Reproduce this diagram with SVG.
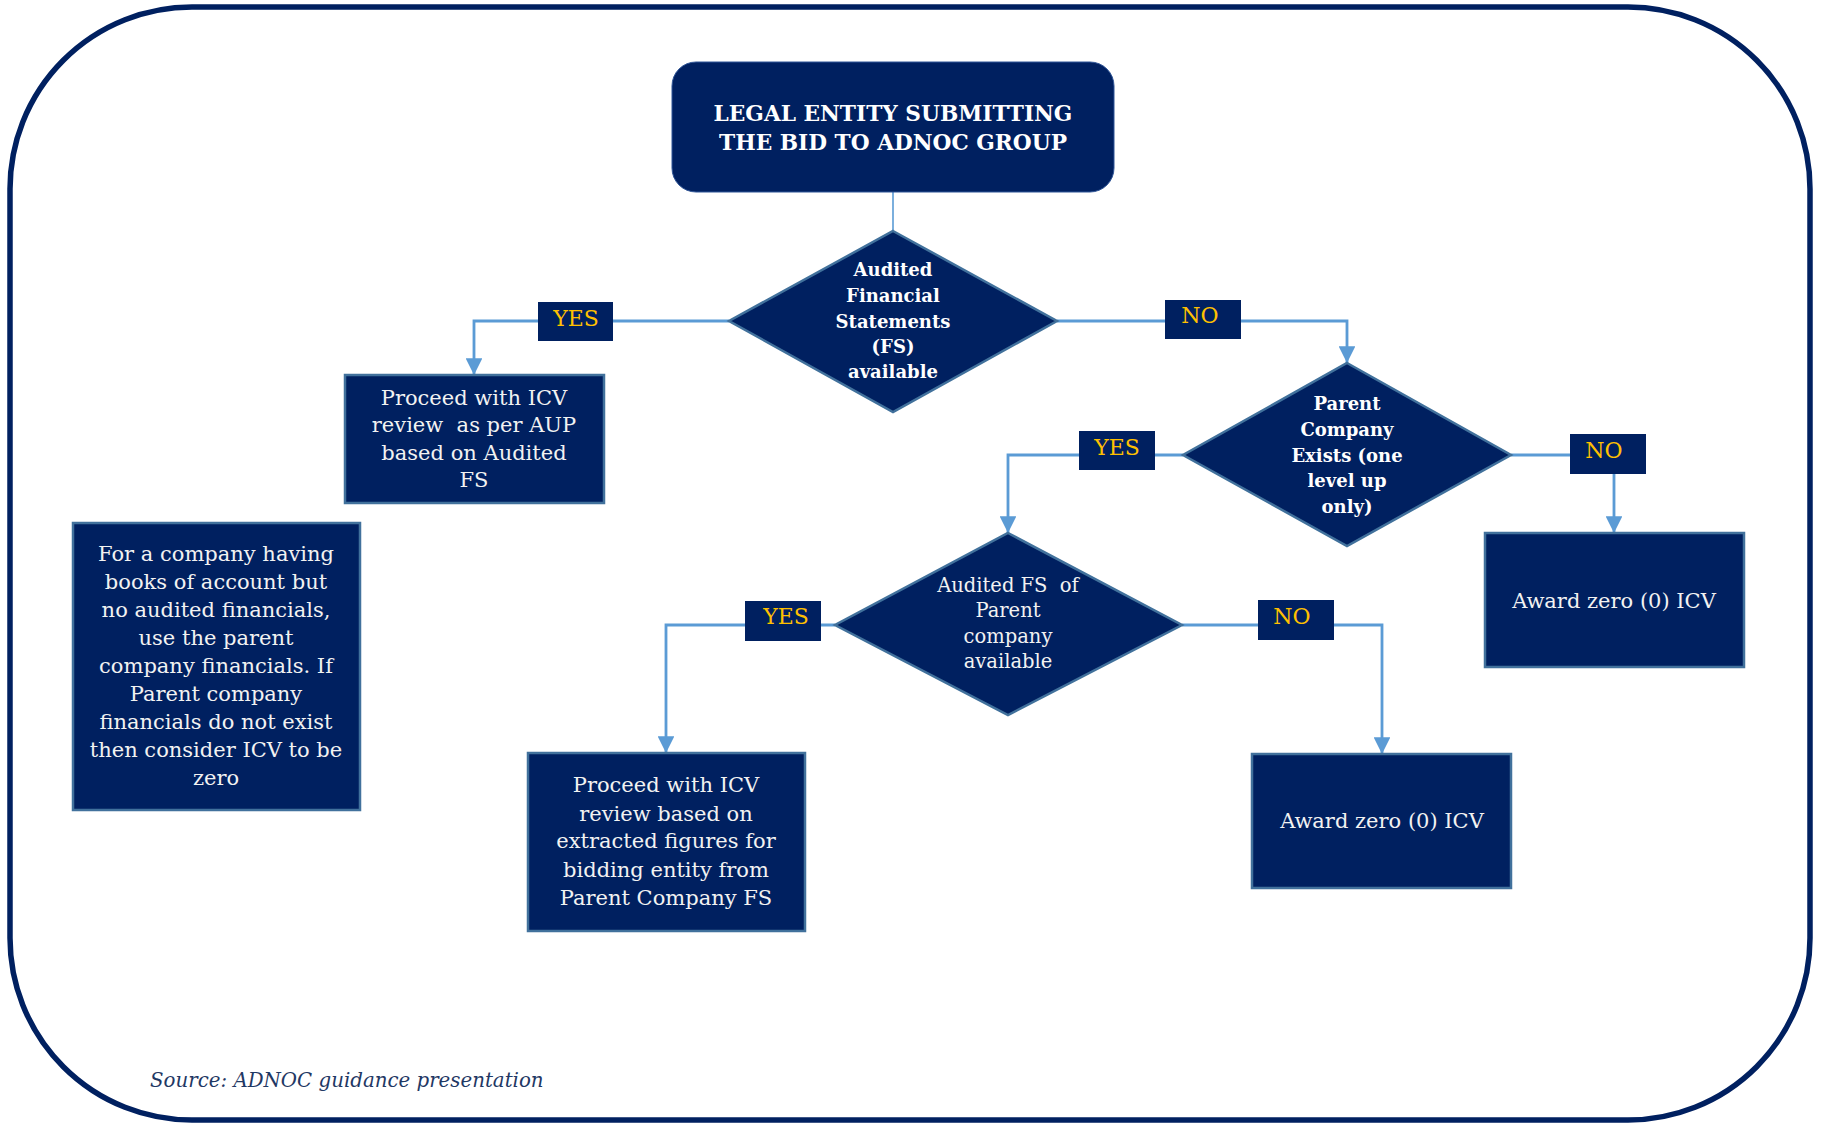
<svg xmlns="http://www.w3.org/2000/svg" width="1825" height="1124" viewBox="0 0 1825 1124">
<defs>
<style>
.node{fill:#002060;stroke:#41719C;stroke-width:2.5}
.lbl{fill:#002060;stroke:none}
.conn{fill:none;stroke:#5B9BD5;stroke-width:2.8}
.t{font-family:"DejaVu Serif",serif;fill:#F2F2F2;text-anchor:middle;font-size:21px;white-space:pre}
.b{font-family:"DejaVu Serif",serif;fill:#FFFFFF;text-anchor:middle;font-weight:bold;font-size:18px}
.y{font-family:"DejaVu Serif",serif;fill:#FFC000;text-anchor:middle;font-size:22px}
</style>
<marker id="arr" viewBox="0 0 10 10" refX="10" refY="5" markerWidth="6" markerHeight="6" markerUnits="strokeWidth" orient="auto">
<path d="M0,0 L10,5 L0,10 Z" fill="#5B9BD5"/>
</marker>
</defs>
<rect width="1825" height="1124" fill="#FFFFFF"/>
<rect x="10" y="7" width="1800" height="1113" rx="182" ry="182" fill="none" stroke="#002060" stroke-width="5.5"/>

<g id="connectors">
<line x1="893" y1="192" x2="893" y2="231" stroke="#5B9BD5" stroke-width="1.6"/>
<polyline class="conn" points="729,321 474,321 474,375" marker-end="url(#arr)"/>
<polyline class="conn" points="1057,321 1347,321 1347,363" marker-end="url(#arr)"/>
<polyline class="conn" points="1183,455 1008,455 1008,533" marker-end="url(#arr)"/>
<polyline class="conn" points="1511,455 1614,455 1614,533" marker-end="url(#arr)"/>
<polyline class="conn" points="835,625 666,625 666,753" marker-end="url(#arr)"/>
<polyline class="conn" points="1182,625 1382,625 1382,754" marker-end="url(#arr)"/>
</g>

<g id="label-yes1"><rect class="lbl" x="538" y="302" width="75" height="39"/><text class="y" x="576" y="326">YES</text></g>
<g id="label-no1"><rect class="lbl" x="1165" y="300" width="76" height="39"/><text class="y" x="1200" y="323">NO</text></g>
<g id="label-yes2"><rect class="lbl" x="1079" y="431" width="76" height="39"/><text class="y" x="1117" y="455">YES</text></g>
<g id="label-no2"><rect class="lbl" x="1570" y="434" width="76" height="40"/><text class="y" x="1604" y="458">NO</text></g>
<g id="label-yes3"><rect class="lbl" x="745" y="601" width="76" height="40"/><text class="y" x="786" y="624">YES</text></g>
<g id="label-no3"><rect class="lbl" x="1258" y="600" width="76" height="40"/><text class="y" x="1292" y="624">NO</text></g>

<g id="start">
<rect x="672" y="62" width="442" height="130" rx="24" ry="24" fill="#002060" stroke="#2F5597" stroke-width="1"/>
<text font-family="DejaVu Serif, serif" font-weight="bold" font-size="21.7" fill="#FFFFFF" text-anchor="middle"><tspan x="893" y="121">LEGAL ENTITY SUBMITTING</tspan><tspan x="893" y="150">THE BID TO ADNOC GROUP</tspan></text>
</g>

<g id="decision-afs">
<polygon class="node" points="893,231 1057,321 893,412 729,321"/>
<text class="b"><tspan x="893" y="276">Audited</tspan><tspan x="893" y="302">Financial</tspan><tspan x="893" y="328">Statements</tspan><tspan x="893" y="353">(FS)</tspan><tspan x="893" y="378">available</tspan></text>
</g>

<g id="proceed-aup">
<rect class="node" x="345" y="375" width="259" height="128"/>
<text class="t"><tspan x="474" y="405">Proceed with ICV</tspan><tspan x="474" y="432">review  as per AUP</tspan><tspan x="474" y="460">based on Audited</tspan><tspan x="474" y="487">FS</tspan></text>
</g>

<g id="decision-parent">
<polygon class="node" points="1347,363 1511,455 1347,546 1183,455"/>
<text class="b"><tspan x="1347" y="410">Parent</tspan><tspan x="1347" y="436">Company</tspan><tspan x="1347" y="462">Exists (one</tspan><tspan x="1347" y="487">level up</tspan><tspan x="1347" y="513">only)</tspan></text>
</g>

<g id="award-zero-1">
<rect class="node" x="1485" y="533" width="259" height="134"/>
<text class="t" x="1614" y="608">Award zero (0) ICV</text>
</g>

<g id="decision-parent-fs">
<polygon class="node" points="1008,533 1182,625 1008,715 835,625"/>
<text class="t" style="font-size:19.5px"><tspan x="1008" y="592">Audited FS  of</tspan><tspan x="1008" y="617">Parent</tspan><tspan x="1008" y="643">company</tspan><tspan x="1008" y="668">available</tspan></text>
</g>

<g id="proceed-parent">
<rect class="node" x="528" y="753" width="277" height="178"/>
<text class="t"><tspan x="666" y="792">Proceed with ICV</tspan><tspan x="666" y="821">review based on</tspan><tspan x="666" y="848">extracted figures for</tspan><tspan x="666" y="877">bidding entity from</tspan><tspan x="666" y="905">Parent Company FS</tspan></text>
</g>

<g id="award-zero-2">
<rect class="node" x="1252" y="754" width="259" height="134"/>
<text class="t" x="1382" y="828">Award zero (0) ICV</text>
</g>

<g id="note">
<rect class="node" x="73" y="523" width="287" height="287"/>
<text class="t"><tspan x="216" y="561">For a company having</tspan><tspan x="216" y="589">books of account but</tspan><tspan x="216" y="617">no audited financials,</tspan><tspan x="216" y="645">use the parent</tspan><tspan x="216" y="673">company financials. If</tspan><tspan x="216" y="701">Parent company</tspan><tspan x="216" y="729">financials do not exist</tspan><tspan x="216" y="757">then consider ICV to be</tspan><tspan x="216" y="785">zero</tspan></text>
</g>

<text x="150" y="1087" font-family="DejaVu Serif, serif" font-style="italic" font-size="19.8" fill="#1F3864">Source: ADNOC guidance presentation</text>
</svg>
